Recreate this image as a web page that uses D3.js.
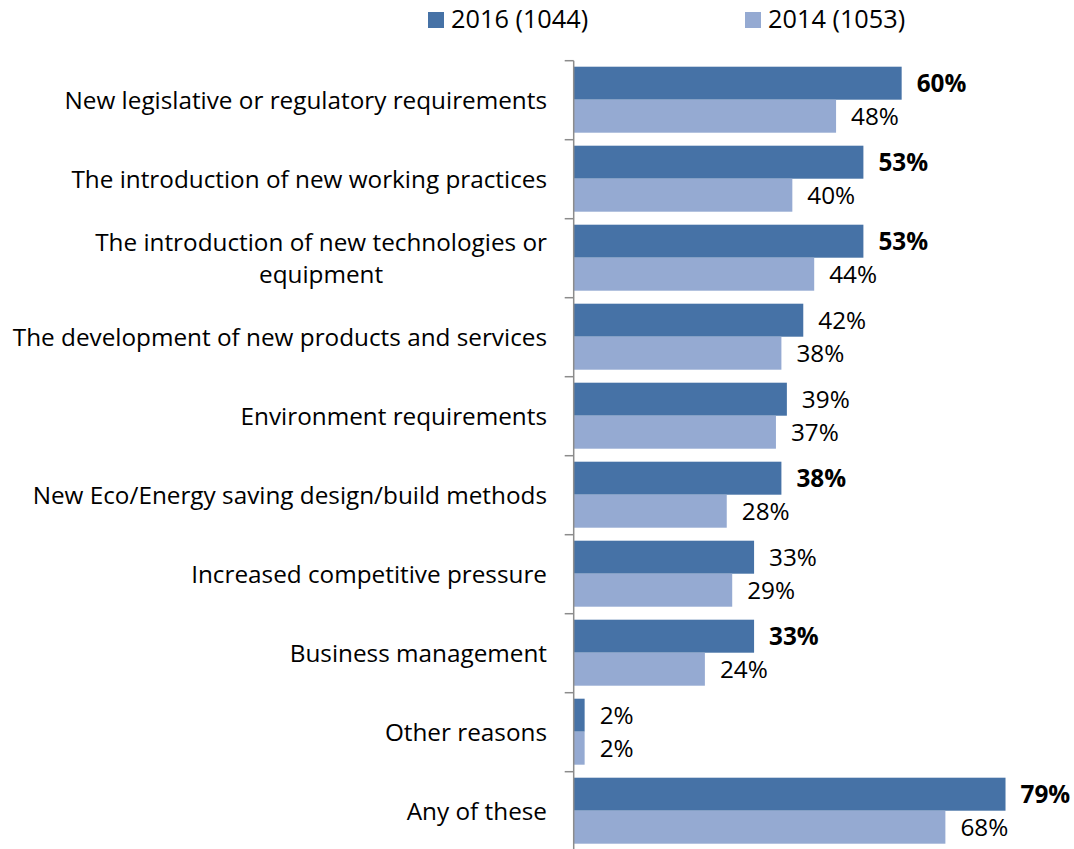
<!DOCTYPE html>
<html lang='en'>
<head>
  <meta charset='UTF-8'>
  <title>Reasons for training</title>
  <style>
    body { margin: 0; background: #fff; }
    text { font-family: 'Open Sans', sans-serif; fill: #000; }
  </style>
</head>
<body>
  <script src='https://cdn.jsdelivr.net/npm/d3@7/dist/d3.min.js'></script>
  <script>
// canvas
const width = 1074;
const height = 849;

// data
const categories = [
  'New legislative or regulatory requirements',
  'The introduction of new working practices',
  'The introduction of new technologies or|equipment',
  'The development of new products and services',
  'Environment requirements',
  'New Eco/Energy saving design/build methods',
  'Increased competitive pressure',
  'Business management',
  'Other reasons',
  'Any of these'
];
const series = ['2016 (1044)', '2014 (1053)'];
const values2016 = [60, 53, 53, 42, 39, 38, 33, 33, 2, 79];
const values2014 = [48, 40, 44, 38, 37, 28, 29, 24, 2, 68];
// labels shown in bold (significant change)
const bold2016 = [true, true, true, false, false, true, false, true, false, true];

const colors = ['#4672a6', '#95aad2'];
const catSize = 24.3;
const valSize = 24.3;
const legSize = 25.3;

const svg = d3.select('body')
  .append('svg')
  .attr('width', width)
  .attr('height', height);

const axisX = 573.7;
const x = d3.scaleLinear().domain([0, 100]).range([axisX, axisX + 546.6]);

const y0 = d3.scaleBand()
  .domain(categories)
  .range([60.7, 60.7 + 79 * categories.length])
  .padding(0);

const y1 = d3.scaleBand()
  .domain(series)
  .range([6, y0.bandwidth() - 7])
  .padding(0);

const rows = categories.map((c, i) => ({
  cat: c,
  vals: [
    { s: series[0], v: values2016[i], bold: bold2016[i] },
    { s: series[1], v: values2014[i], bold: false }
  ]
}));

const g = svg.selectAll('g.row')
  .data(rows)
  .enter()
  .append('g')
  .attr('class', 'row')
  .attr('transform', d => 'translate(0,' + y0(d.cat) + ')');

g.selectAll('rect')
  .data(d => d.vals)
  .enter()
  .append('rect')
  .attr('x', axisX)
  .attr('y', d => y1(d.s))
  .attr('width', d => x(d.v) - axisX)
  .attr('height', y1.bandwidth())
  .attr('fill', (d, i) => colors[i]);

g.selectAll('text.val')
  .data(d => d.vals)
  .enter()
  .append('text')
  .attr('class', 'val')
  .attr('x', d => x(d.v) + 15)
  .attr('y', d => y1(d.s) + y1.bandwidth() / 2)
  .attr('dy', '0.38em')
  .style('font-size', valSize + 'px')
  .style('font-weight', d => d.bold ? 'bold' : 'normal')
  .text(d => d.v + '%');

// category labels (wrapped ones are centred under the first line)
g.each(function (d) {
  const lines = d.cat.split('|');
  const mid = y0.bandwidth() / 2;
  const t = d3.select(this).append('text')
    .attr('class', 'cat')
    .style('font-size', catSize + 'px')
    .attr('text-anchor', 'end')
    .attr('x', 547)
    .attr('y', mid - (lines.length - 1) * 16)
    .attr('dy', '0.38em')
    .text(lines[0]);
  if (lines.length > 1) {
    const w = t.node().getComputedTextLength();
    d3.select(this).append('text')
      .style('font-size', catSize + 'px')
      .attr('text-anchor', 'middle')
      .attr('x', 547 - w / 2)
      .attr('y', mid + 16)
      .attr('dy', '0.38em')
      .text(lines[1]);
  }
});

// axis line with ticks on the left
const yAxis = d3.axisLeft(y0)
  .tickValues([])
  .tickSizeOuter(0);
const ax = svg.append('g')
  .attr('transform', 'translate(' + axisX + ',0)')
  .call(yAxis);
ax.select('.domain').attr('stroke', '#8c8c8c').attr('stroke-width', 1.5)
  .attr('d', 'M0,' + y0.range()[0] + 'V' + height);
const tickYs = categories.map(c => y0(c)).concat([y0.range()[1]]);
ax.selectAll('line.tk')
  .data(tickYs)
  .enter()
  .append('line')
  .attr('class', 'tk')
  .attr('x1', -9).attr('x2', 0)
  .attr('y1', d => d).attr('y2', d => d)
  .attr('stroke', '#8c8c8c')
  .attr('stroke-width', 1.5);

// legend
const legendX = [428, 745];
const lg = svg.selectAll('g.legend')
  .data(series)
  .enter()
  .append('g')
  .attr('class', 'legend')
  .attr('transform', (d, i) => 'translate(' + legendX[i] + ',12)');
lg.append('rect')
  .attr('width', 16)
  .attr('height', 16)
  .attr('fill', (d, i) => colors[i]);
lg.append('text')
  .attr('x', 23)
  .attr('y', 16)
  .style('font-size', legSize + 'px')
  .text(d => d);
  </script>
</body>
</html>
